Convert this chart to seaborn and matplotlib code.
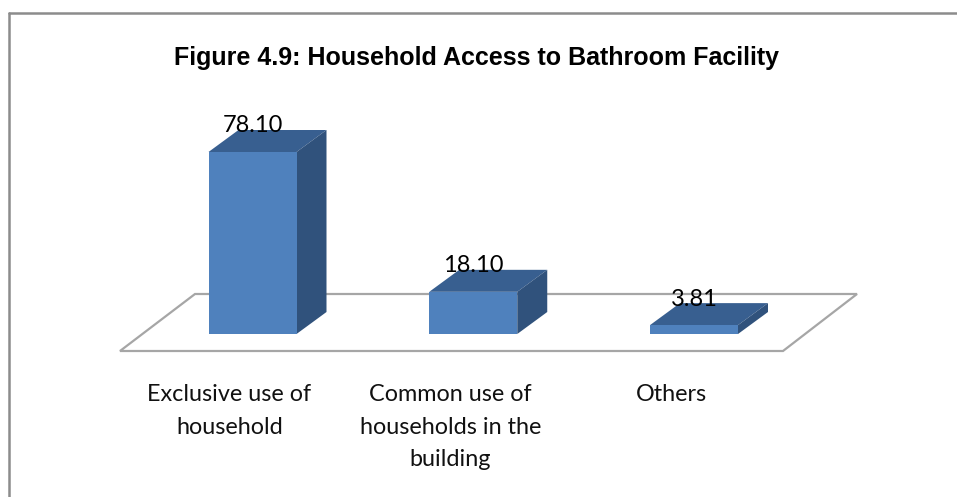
import matplotlib
matplotlib.use("Agg")
import matplotlib.pyplot as plt
from matplotlib.lines import Line2D
from matplotlib.patches import Polygon
import pandas as pd
import seaborn as sns

categories = ["Exclusive use of\nhousehold", "Common use of\nhouseholds in the\nbuilding", "Others"]
values = [78.10, 18.10, 3.81]
value_labels = ["78.10", "18.10", "3.81"]
title = "Figure 4.9: Household Access to Bathroom Facility"

FRONT = "#4f81bd"
TOP = "#385f90"
SIDE = "#30527c"
FLOOR = "#a6a6a6"
FRAME = "#8c8c8c"

W, H = 957, 497
PX_PER_CAT = 220.75
PX_PER_UNIT = 182 / 78.10
X0, Y0 = 252.5, 334


def dx(px):
    return px / PX_PER_CAT


def dy(px):
    return px / PX_PER_UNIT


sns.set_theme(style="white")
plt.rcParams["font.family"] = ["Lato", "DejaVu Sans"]

fig = plt.figure(figsize=(W / 100, H / 100), dpi=100, facecolor="white")
ax = fig.add_axes([0, 0, 1, 1])

df = pd.DataFrame({"category": categories, "value": values})
sns.barplot(data=df, x="category", y="value", ax=ax, color=FRONT, saturation=1,
            width=88 / PX_PER_CAT, zorder=4, edgecolor="none")

ax.set_xlim(-X0 / PX_PER_CAT, (W - X0) / PX_PER_CAT)
ax.set_ylim(-(H - Y0) / PX_PER_UNIT, Y0 / PX_PER_UNIT)
ax.axis("off")

# Chart frame: only the top and left edges fall inside the canvas
top_y = 1 - 13 / H
left_x = 9 / W
fig.add_artist(Line2D([left_x, 1], [top_y, top_y], color=FRAME, lw=1.8))
fig.add_artist(Line2D([left_x, left_x], [top_y, 0], color=FRAME, lw=1.8))

# Floor plane, drawn in data units relative to the baseline
floor = [(dx(120 - X0), dy(-17)), (dx(783 - X0), dy(-17)),
         (dx(857 - X0), dy(40)), (dx(195 - X0), dy(40))]
ax.add_patch(Polygon(floor, closed=True, fill=False, ec=FLOOR, lw=1.6, zorder=2))

# Extruded top and side faces for each bar
depth_x, depth_y = dx(30), dy(22)
for bar, val, lab in zip(ax.patches[:3], values, value_labels):
    x0, x1 = bar.get_x(), bar.get_x() + bar.get_width()
    ax.add_patch(Polygon([(x0, val), (x1, val), (x1 + depth_x, val + depth_y), (x0 + depth_x, val + depth_y)],
                         closed=True, fc=TOP, ec="none", zorder=3))
    ax.add_patch(Polygon([(x1, 0), (x1, val), (x1 + depth_x, val + depth_y), (x1 + depth_x, depth_y)],
                         closed=True, fc=SIDE, ec="none", zorder=3))
    ax.text((x0 + x1) / 2, val + dy(26), lab, ha="center", va="center",
            fontsize=17, color="black", zorder=6)

# Category labels sit left of their bars, below the floor
for i, cat in enumerate(categories):
    ax.text(i - dx(23), dy(-50), cat, ha="center", va="top",
            fontsize=16.8, color="#111111", linespacing=1.68, zorder=6)

fig.text(476 / W, 1 - 58 / H, title, ha="center", va="center", fontsize=18,
         fontweight="bold", family="Liberation Sans", color="black")

fig.savefig("out.png", dpi=100, facecolor="white")
